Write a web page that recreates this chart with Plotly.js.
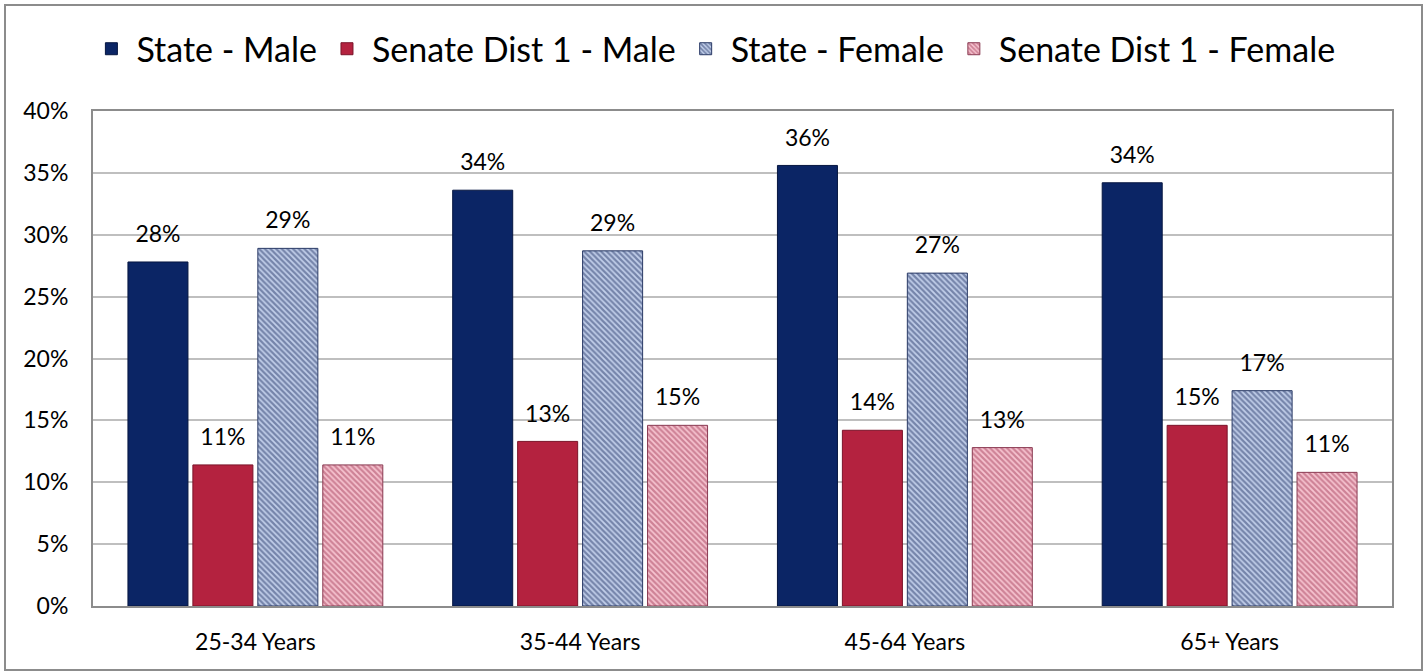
<!DOCTYPE html>
<html>
<head>
<meta charset="utf-8">
<script src="https://cdn.plot.ly/plotly-3.0.1.min.js"></script>
<style>
  html, body { margin: 0; padding: 0; background: #ffffff; }
  #wrap { position: relative; width: 1425px; height: 672px; }
  #chart { position: absolute; left: 0; top: 0; width: 1425px; height: 672px; }
  #frame { position: absolute; left: 4px; top: 4px; width: 1415px; height: 663px;
           border: 2px solid #8c8c8c; pointer-events: none; }
</style>
</head>
<body>
<div id="wrap">
  <div id="chart"></div>
  <div id="frame"></div>
</div>
<script>
// ---- data (percent) ----
const categories = ['25-34 Years', '35-44 Years', '45-64 Years', '65+ Years'];
const seriesNames = ['State - Male', 'Senate Dist 1 - Male', 'State - Female', 'Senate Dist 1 - Female'];
const stateMale = [27.8, 33.6, 35.6, 34.2];
const senateMale = [11.4, 13.3, 14.2, 14.6];
const stateFemale = [28.9, 28.7, 26.9, 17.4];
const senateFemale = [11.4, 14.6, 12.8, 10.8];
const yTicks = [0, 5, 10, 15, 20, 25, 30, 35, 40];

const FONT = 'Lato, "Open Sans", "DejaVu Sans", sans-serif';
const seriesValues = [stateMale, senateMale, stateFemale, senateFemale];
const styles = [
  { color: '#0b2565', line: '#061640' },
  { color: '#b4223f', line: '#7a1429' },
  { color: '#aebddc', line: '#2a3a66', pattern: { shape: '\\', fgcolor: '#28396a', bgcolor: '#c2cfea', size: 4, solidity: 0.55, fillmode: 'overlay' } },
  { color: '#efb0c0', line: '#8a3a52', pattern: { shape: '\\', fgcolor: '#a63f5c', bgcolor: '#f6c4d0', size: 4, solidity: 0.55, fillmode: 'overlay' } }
];

const traces = [];
seriesValues.forEach((vals, i) => {
  const st = styles[i];
  const marker = { color: st.color, line: { color: st.line, width: 1 } };
  if (st.pattern) marker.pattern = st.pattern;
  traces.push({
    type: 'bar',
    name: seriesNames[i],
    x: categories,
    y: vals,
    offsetgroup: 'g' + i,
    marker: marker,
    hoverinfo: 'skip'
  });
});
seriesValues.forEach((vals, i) => {
  traces.push({
    type: 'scatter',
    mode: 'markers+text',
    x: categories,
    y: vals,
    offsetgroup: 'g' + i,
    text: vals.map(v => Math.round(v) + '%'),
    textposition: 'top center',
    textfont: { family: FONT, size: 23, color: '#000000' },
    marker: { size: 21, opacity: 0 },
    showlegend: false,
    hoverinfo: 'skip',
    cliponaxis: false
  });
});

const layout = {
  width: 1425,
  height: 672,
  margin: { l: 93, r: 33, t: 111, b: 66 },
  paper_bgcolor: '#ffffff',
  plot_bgcolor: '#ffffff',
  barmode: 'group',
  bargap: 0.2,
  bargroupgap: 0.076,
  scattermode: 'group',
  scattergap: 0.2,
  font: { family: FONT, color: '#000000' },
  showlegend: true,
  legend: {
    orientation: 'h',
    x: 0.4776, xanchor: 'center',
    y: 1.125, yanchor: 'middle',
    font: { family: FONT, size: 34, color: '#000000' },
    bgcolor: 'rgba(0,0,0,0)',
    itemwidth: 40
  },
  xaxis: {
    type: 'category',
    showline: true, linecolor: '#8c8c8c', linewidth: 2, mirror: true,
    showgrid: false,
    ticks: '',
    tickfont: { family: FONT, size: 23, color: '#000000' },
    ticklabelstandoff: 14
  },
  yaxis: {
    range: [0, 40],
    tickvals: yTicks,
    ticktext: yTicks.map(v => v + '%'),
    showline: true, linecolor: '#8c8c8c', linewidth: 2, mirror: true,
    showgrid: true, gridcolor: '#bfbfbf', gridwidth: 2,
    zeroline: false,
    ticks: '',
    tickfont: { family: FONT, size: 23, color: '#000000' },
    ticklabelstandoff: 18
  }
};

Plotly.newPlot('chart', traces, layout, { displayModeBar: false, staticPlot: true });
</script>
</body>
</html>
